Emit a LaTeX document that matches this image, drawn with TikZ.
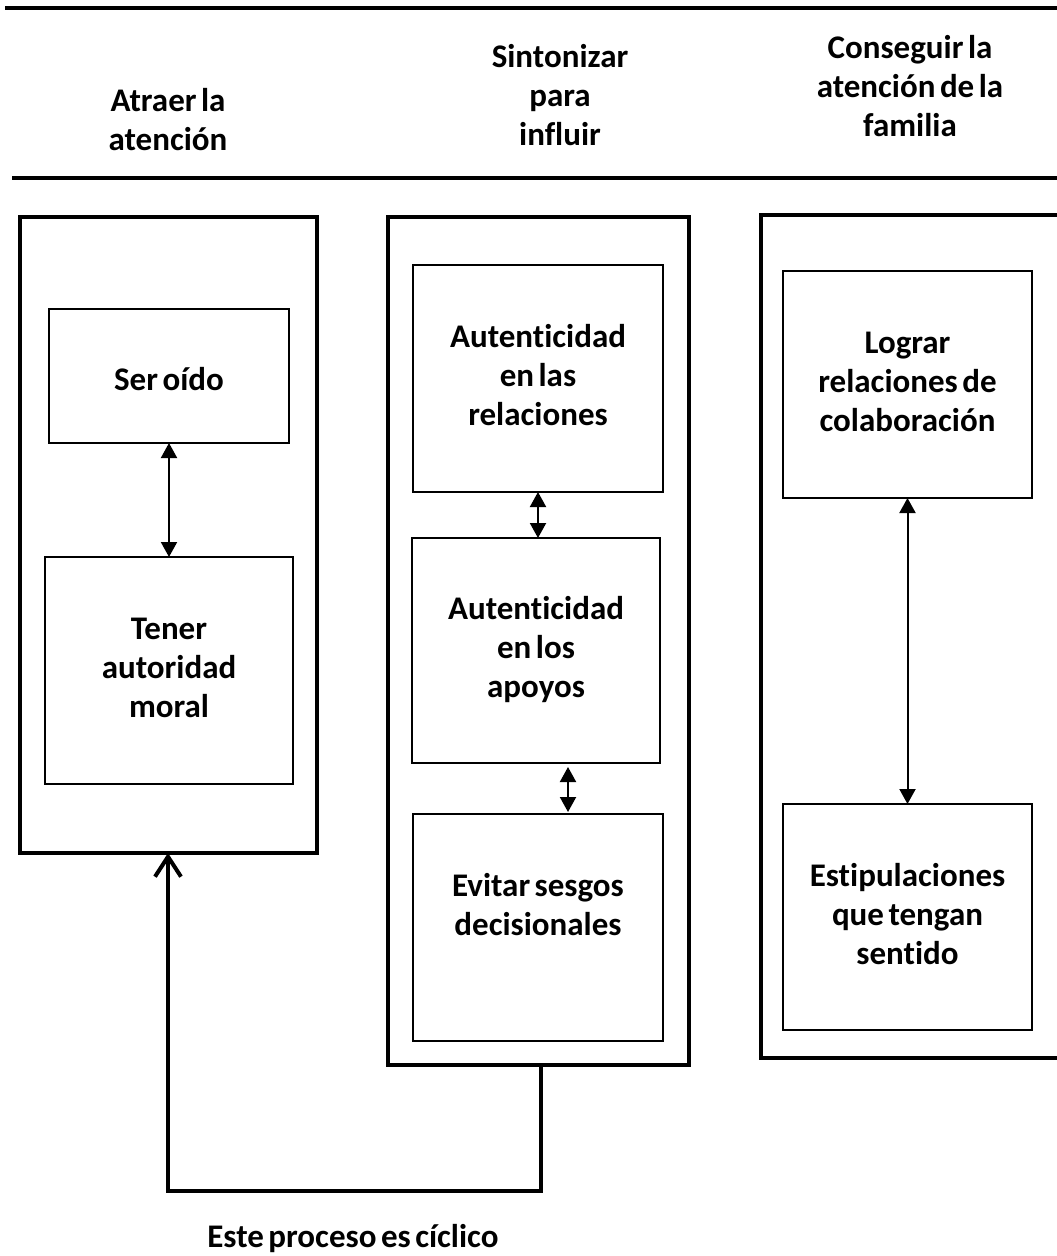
\documentclass[tikz,border=0pt]{standalone}
\usepackage{fontspec}
\setmainfont{Carlito}[Ligatures={NoCommon}]
\usetikzlibrary{arrows.meta}
\lineskiplimit=-20pt\relax
\begin{document}
\begin{tikzpicture}[x=1pt,y=-1pt,
  txt/.style={font=\bfseries\fontsize{33}{39}\selectfont, align=center, inner sep=0pt, outer sep=0pt,
    execute at begin node={\spaceskip=4.5pt\relax\xspaceskip=4.5pt\relax}},
  outerbox/.style={draw, line width=4.5pt, inner sep=0pt, outer sep=0pt},
  innerbox/.style={draw, line width=2pt, txt, text width=230pt, text height=24pt},
  l1/.style={text height=28pt, text depth=0pt},
  l3/.style={text depth=86pt},
  dbl/.style={line width=2pt, {Triangle[length=15pt,width=16pt]}-{Triangle[length=15pt,width=16pt]}},
  cyc/.style={line width=4pt, -{Straight Barb[length=20pt,width=26pt]}},
  rulebar/.style={line width=4.5pt},
  head/.style={txt, text width=300pt, anchor=base}
]
\useasboundingbox (0,0) rectangle (1057,1256);
\clip (0,0) rectangle (1057,1256);

% header rules
\draw[rulebar] (5,8) -- (1057,8);
\draw[rulebar] (12,178) -- (1057,178);

% headers
\node[head] (h1) at (168,111) {Atraer la\\atención};
\node[head] (h2) at (560,67) {Sintonizar\\para\\influir};
\node[head] (h3) at (910,58) {Conseguir la\\atención de la\\familia};

% column frames
\node[outerbox, minimum width=297pt, minimum height=636pt] (colA) at (168.5,535) {};
\node[outerbox, minimum width=301pt, minimum height=848pt] (colB) at (538.5,641) {};
\node[outerbox, minimum width=319pt, minimum height=843pt] (colC) at (920.5,636.5) {};

% inner boxes
\node[innerbox, l1, minimum width=240pt, minimum height=134pt] (ser) at (169,376) {Ser oído};
\node[innerbox, l3, minimum width=248pt, minimum height=227pt] (tener) at (169,670.5) {Tener\\autoridad\\moral};
\node[innerbox, l3, minimum width=250pt, minimum height=227pt] (rel) at (538,378.5) {Autenticidad\\en las\\relaciones};
\node[innerbox, l3, minimum width=248pt, minimum height=225pt] (apo) at (536,650.5) {Autenticidad\\en los\\apoyos};
\node[innerbox, l3, minimum width=250pt, minimum height=227pt] (evi) at (538,927.5) {Evitar sesgos\\decisionales};
\node[innerbox, l3, minimum width=249pt, minimum height=227pt] (log) at (907.5,384.5) {Lograr\\relaciones de\\colaboración};
\node[innerbox, l3, minimum width=249pt, minimum height=226pt] (est) at (907.5,917) {Estipulaciones\\que tengan\\sentido};

% connectors
\draw[dbl] (ser.south) -- (tener.north);
\draw[dbl] (rel.south) -- (rel.south |- apo.north);
\coordinate (ax) at (568,0);
\draw[dbl, shorten <=4pt, shorten >=2pt] (apo.south -| ax) -- (evi.north -| ax);
\draw[dbl] (log.south) -- (est.north);

% cycle
\coordinate (cr) at (541,1191);
\coordinate (cl) at (168,1191);
\draw[cyc] (colB.south -| cr) -- (cr) -- (cl) -- (colA.south -| cl);

\node[head, text width=400pt] (cap) at (353,1247) {Este proceso es cíclico};
\end{tikzpicture}
\end{document}
